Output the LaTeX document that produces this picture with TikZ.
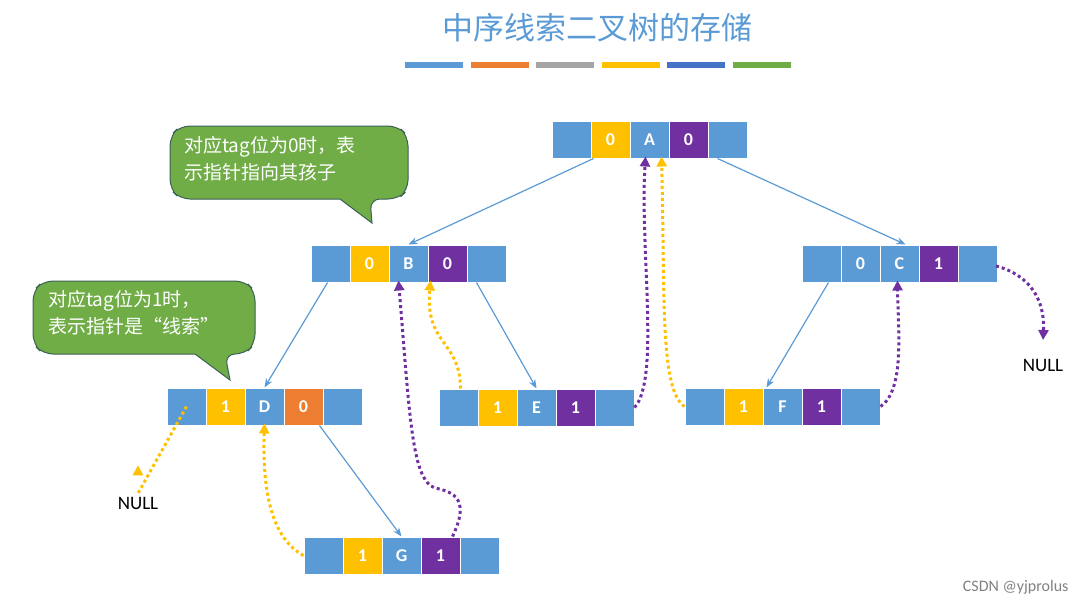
\documentclass[tikz,border=0pt]{standalone}
\usepackage{fontspec}
\setmainfont{Carlito}
\newfontfamily\cjk{Noto Sans CJK SC}
\usetikzlibrary{arrows.meta}
\definecolor{cblue}{HTML}{5B9BD5}
\definecolor{cyel}{HTML}{FFC000}
\definecolor{cpur}{HTML}{7030A0}
\definecolor{corg}{HTML}{ED7D31}
\definecolor{cgray}{HTML}{A5A5A5}
\definecolor{cdblue}{HTML}{4472C4}
\definecolor{cgreen}{HTML}{70AD47}
\definecolor{cline}{HTML}{41719C}
\tikzset{
 cell/.style={draw=white,line width=1pt,minimum width=39pt,minimum height=37pt,inner sep=0pt,text=white,font=\fontsize{18}{18}\selectfont\bfseries},
 edge/.style={draw=cblue,line width=1.2pt,-{Stealth[length=9pt,width=7pt]}},
 ythr/.style={draw=cyel,line width=3pt,dash pattern=on 3pt off 3pt,-{Triangle[length=10pt,width=10pt]}},
 pthr/.style={draw=cpur,line width=3pt,dash pattern=on 3pt off 3pt,-{Triangle[length=10pt,width=10pt]}},
 callout/.style={fill=cgreen,draw=cline!60!cgreen!70!black,line width=1pt,rounded corners=10pt},
 ctext/.style={text=white,font=\cjk\fontsize{19}{27}\selectfont,align=left,anchor=north west,inner sep=0pt},
 lbl/.style={font=\fontsize{19}{19}\selectfont}
}
% name, x, ytop, color2, text2, text3, color4, text4
\newcommand\tnode[8]{%
 \node[cell,fill=cblue] (#1-1) at (#2+19.5,#3+18.5) {};
 \node[cell,fill=#4] (#1-2) at (#2+58.5,#3+18.5) {#5};
 \node[cell,fill=cblue] (#1-3) at (#2+97.5,#3+18.5) {#6};
 \node[cell,fill=#7] (#1-4) at (#2+136.5,#3+18.5) {#8};
 \node[cell,fill=cblue] (#1-5) at (#2+175.5,#3+18.5) {};
}
\begin{document}
\begin{tikzpicture}[x=1pt,y=-1pt]
\useasboundingbox (0,0) rectangle (1087,606);
\node[text=cblue,font=\cjk\fontsize{31}{31}\selectfont] (title) at (597,28) {中序线索二叉树的存储};
\foreach \c [count=\i] in {cblue,corg,cgray,cyel,cdblue,cgreen}
  \fill[\c] (405+65.5*\i-65.5,62) rectangle ++(58,6);

\tnode{a}{552}{121}{cyel}{0}{A}{cpur}{0}
\tnode{b}{311}{245}{cyel}{0}{B}{cpur}{0}
\tnode{c}{802}{245}{cblue}{0}{C}{cpur}{1}
\tnode{d}{167}{388}{cyel}{1}{D}{corg}{0}
\tnode{e}{439}{389}{cyel}{1}{E}{cpur}{1}
\tnode{f}{685}{388}{cyel}{1}{F}{cpur}{1}
\tnode{g}{304}{537}{cyel}{1}{G}{cpur}{1}

% child edges
\draw[edge] ([xshift=3pt]a-2.south west) -- (b-3.north);
\draw[edge] ([xshift=-10pt]a-5.south) -- ([xshift=6pt]c-3.north);
\draw[edge] ([xshift=-3pt]b-1.south) -- (d-3.north);
\draw[edge] ([xshift=-10pt]b-5.south) -- (e-3.north);
\draw[edge] ([xshift=7pt]c-1.south) -- ([xshift=3pt]f-2.north east);
\draw[edge] ([xshift=-3pt]d-5.south west) -- (g-3.north);

% threads
\node[lbl] (n1) at (138,503) {NULL};
\node[lbl] (n2) at (1043,365) {NULL};
\draw[ythr] (d-1.center) -- (n1.north) ++(0,-28);
\coordinate (c-out) at (996,266);
\draw[pthr] (c-out) .. controls (1030,275) and (1045,300) .. (1043,340);
\draw[ythr] (g-1.west) .. controls (275,540) and (262,500) .. ([yshift=2pt]d-3.south);
\draw[pthr] ([xshift=-27pt]g-5.north) .. controls (470,500) and (455,492) .. (435,488) .. controls (412,480) and (410,420) .. ([xshift=-10pt,yshift=2pt]b-3.south);
\draw[ythr] ([xshift=22pt]e-1.north west) .. controls (460,340) and (425,345) .. ([xshift=2pt,yshift=2pt]b-3.south east);
\draw[pthr] (e-5.east) .. controls (660,380) and (640,250) .. ([xshift=-4pt,yshift=2pt]a-3.south);
\draw[ythr] (f-1.west) .. controls (660,390) and (665,300) .. ([xshift=12pt,yshift=2pt]a-3.south);
\draw[pthr] (f-5.east) .. controls (905,390) and (898,330) .. ([xshift=-2pt,yshift=2pt]c-3.south);

% callouts
\draw[callout] (180,126) -- (398,126) -- (408,136) -- (408,190) -- (398,199) -- (370,199)[sharp corners] -- (372,223) -- (340,199)[rounded corners=10pt] -- (180,199) -- (170,189) -- (170,136) -- cycle;
\node[ctext] (t1) at (184,136) {对应tag位为0时，表\\示指针指向其孩子};
\draw[callout] (43,281) -- (245,281) -- (255,291) -- (255,344) -- (245,354) -- (225,354)[sharp corners] -- (230,380) -- (195,354)[rounded corners=10pt] -- (43,354) -- (33,344) -- (33,291) -- cycle;
\node[ctext] (t2) at (48,290) {对应tag位为1时，\\表示指针是“线索”};

\node[text=gray,font=\fontsize{16}{16}\selectfont,anchor=east] (wm) at (1072,587) {CSDN @yjprolus};
\end{tikzpicture}
\end{document}
